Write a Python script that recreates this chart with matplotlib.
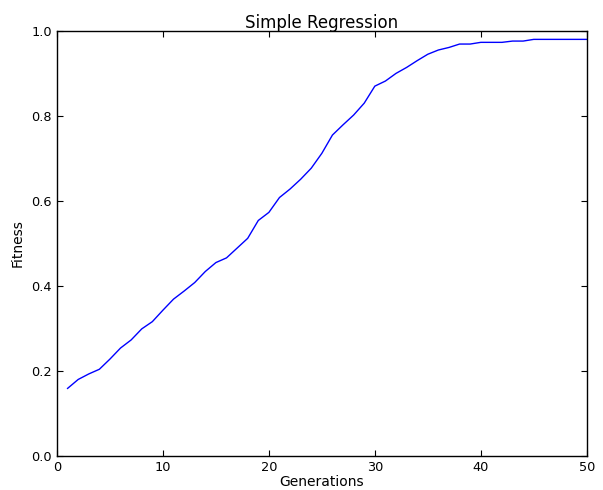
import numpy as np
import matplotlib
matplotlib.use('Agg')
import matplotlib.pyplot as plt

# fitness per generation
generations = list(range(1, 51))
fitness = [0.159, 0.180, 0.193, 0.204, 0.228, 0.254, 0.273, 0.299, 0.316, 0.343,
           0.369, 0.388, 0.408, 0.434, 0.455, 0.466, 0.489, 0.512, 0.554, 0.573,
           0.608, 0.628, 0.651, 0.677, 0.712, 0.755, 0.779, 0.802, 0.830, 0.870,
           0.882, 0.900, 0.914, 0.930, 0.945, 0.955, 0.961, 0.969, 0.969, 0.973,
           0.973, 0.973, 0.976, 0.976, 0.980, 0.980, 0.980, 0.980, 0.980, 0.980]

fig = plt.figure(figsize=(6.03, 4.90), dpi=100)
ax = fig.add_axes([0.0945, 0.0694, 0.8785, 0.8676])

ax.plot(generations, fitness, color='b', linewidth=1)

ax.set_xlim(0, 50)
ax.set_ylim(0, 1.0)
ax.set_xticks([0, 10, 20, 30, 40, 50])
ax.set_yticks([0.0, 0.2, 0.4, 0.6, 0.8, 1.0])
ax.tick_params(direction='in', top=True, right=True, length=4, labelsize=9.3, pad=3.5)
for s in ax.spines.values():
    s.set_linewidth(1)

ax.set_title('Simple Regression', fontsize=12, pad=2)
ax.set_xlabel('Generations', fontsize=10, labelpad=1)
ax.set_ylabel('Fitness', fontsize=10, labelpad=5)

fig.savefig('out.png', dpi=100, facecolor='white')
